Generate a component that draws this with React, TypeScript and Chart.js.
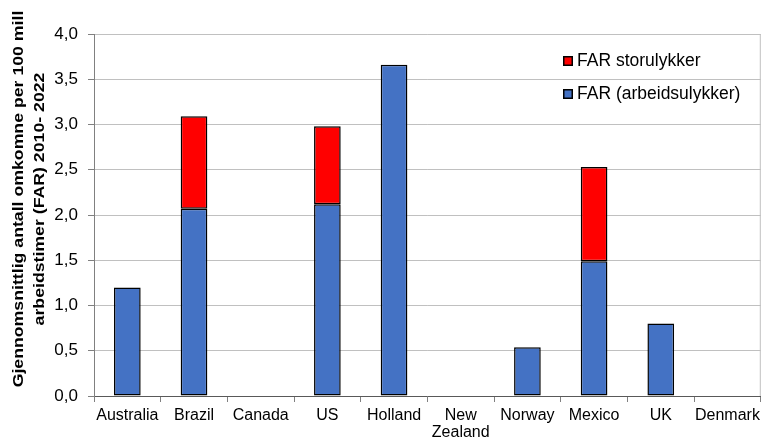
import React, { useEffect, useRef } from "react";
import { Chart, registerables } from "chart.js";

Chart.register(...registerables);

const categories: (string | string[])[] = [
  "Australia",
  "Brazil",
  "Canada",
  "US",
  "Holland",
  ["New", "Zealand"],
  "Norway",
  "Mexico",
  "UK",
  "Denmark",
];
const farArbeidsulykker = [1.2, 2.07, 0, 2.12, 3.66, 0, 0.54, 1.49, 0.8, 0];
const farStorulykker = [0, 1.02, 0, 0.86, 0, 0, 0, 1.04, 0, 0];
const seriesLabels = ["FAR (arbeidsulykker)", "FAR storulykker"];
const yTitleLines = [
  "Gjennomsnittlig antall omkomne per 100 mill",
  "arbeidstimer (FAR) 2010- 2022",
];
const yMin = 0;
const yMax = 4;
const yStep = 0.5;

const FONT = "'Liberation Sans', Arial, sans-serif";

const decorPlugin = {
  id: "decor",
  afterDraw(chart: any) {
    const { ctx, chartArea } = chart;
    ctx.save();
    // right frame line
    ctx.strokeStyle = "#c0c0c0";
    ctx.lineWidth = 1;
    ctx.beginPath();
    ctx.moveTo(chartArea.right - 0.5, chartArea.top);
    ctx.lineTo(chartArea.right - 0.5, chartArea.bottom);
    ctx.stroke();

    // legend (reverse order: top segment first)
    const items = [...chart.data.datasets].reverse();
    ctx.font = `17.5px ${FONT}`;
    ctx.textBaseline = "alphabetic";
    ctx.textAlign = "left";
    items.forEach((ds: any, i: number) => {
      const bx = 563;
      const by = chartArea.top + 22 + i * 33;
      ctx.fillStyle = ds.backgroundColor;
      ctx.fillRect(bx, by, 10, 10);
      ctx.strokeStyle = "#000";
      ctx.lineWidth = 1.5;
      ctx.strokeRect(bx + 0.75, by + 0.75, 8.5, 8.5);
      ctx.fillStyle = "#000";
      ctx.fillText(ds.label, 577, by + 10);
    });

    // y axis title
    ctx.font = `bold 15px ${FONT}`;
    ctx.fillStyle = "#000";
    ctx.textAlign = "center";
    ctx.textBaseline = "alphabetic";
    const cy = 199;
    const xs = [22.5, 43.5];
    yTitleLines.forEach((line, i) => {
      ctx.save();
      ctx.translate(xs[i], cy);
      ctx.rotate(-Math.PI / 2);
      ctx.scale(1.18, 1);
      ctx.fillText(line, 0, 0);
      ctx.restore();
    });
    ctx.restore();
  },
};

export default function App() {
  const ref = useRef<HTMLCanvasElement | null>(null);

  useEffect(() => {
    document.body.style.margin = "0";
    const canvas = ref.current;
    if (!canvas) return;
    const chart = new Chart(canvas, {
      type: "bar",
      data: {
        labels: categories,
        datasets: [
          {
            label: seriesLabels[0],
            data: farArbeidsulykker,
            backgroundColor: "#4472C4",
            borderColor: "#000000",
            borderWidth: 1.5,
            borderSkipped: false,
            barPercentage: 0.4,
            categoryPercentage: 1,
          },
          {
            label: seriesLabels[1],
            data: farStorulykker,
            backgroundColor: "#FF0000",
            borderColor: "#000000",
            borderWidth: 1.5,
            borderSkipped: false,
            barPercentage: 0.4,
            categoryPercentage: 1,
          },
        ],
      },
      options: {
        responsive: false,
        animation: false,
        devicePixelRatio: 1,
        layout: { padding: { top: 34, right: 2, left: 0, bottom: 0 } },
        plugins: {
          legend: { display: false },
          tooltip: { enabled: false },
        },
        scales: {
          x: {
            stacked: true,
            grid: {
              offset: true,
              drawOnChartArea: false,
              color: "#808080",
              tickLength: 6,
            },
            border: { display: true, color: "#595959", width: 1 },
            ticks: {
              color: "#000",
              font: { family: FONT, size: 16, lineHeight: 1.05 },
              padding: 5,
              maxRotation: 0,
              autoSkip: false,
            },
            afterFit(scale: any) {
              scale.height = 46;
            },
          },
          y: {
            stacked: true,
            min: yMin,
            max: yMax,
            grid: {
              color: "#c0c0c0",
              tickColor: "#808080",
              tickLength: 6,
            },
            border: { display: true, color: "#808080", width: 1 },
            ticks: {
              stepSize: yStep,
              color: "#000",
              font: { family: FONT, size: 17 },
              padding: 10,
              callback: (v: any) => Number(v).toFixed(1).replace(".", ","),
            },
            afterFit(scale: any) {
              scale.width = 94;
            },
          },
        },
      },
      plugins: [decorPlugin],
    });
    return () => chart.destroy();
  }, []);

  return (
    <div style={{ width: 765, height: 442 }}>
      <canvas ref={ref} width={765} height={442} style={{ display: "block" }} />
    </div>
  );
}
